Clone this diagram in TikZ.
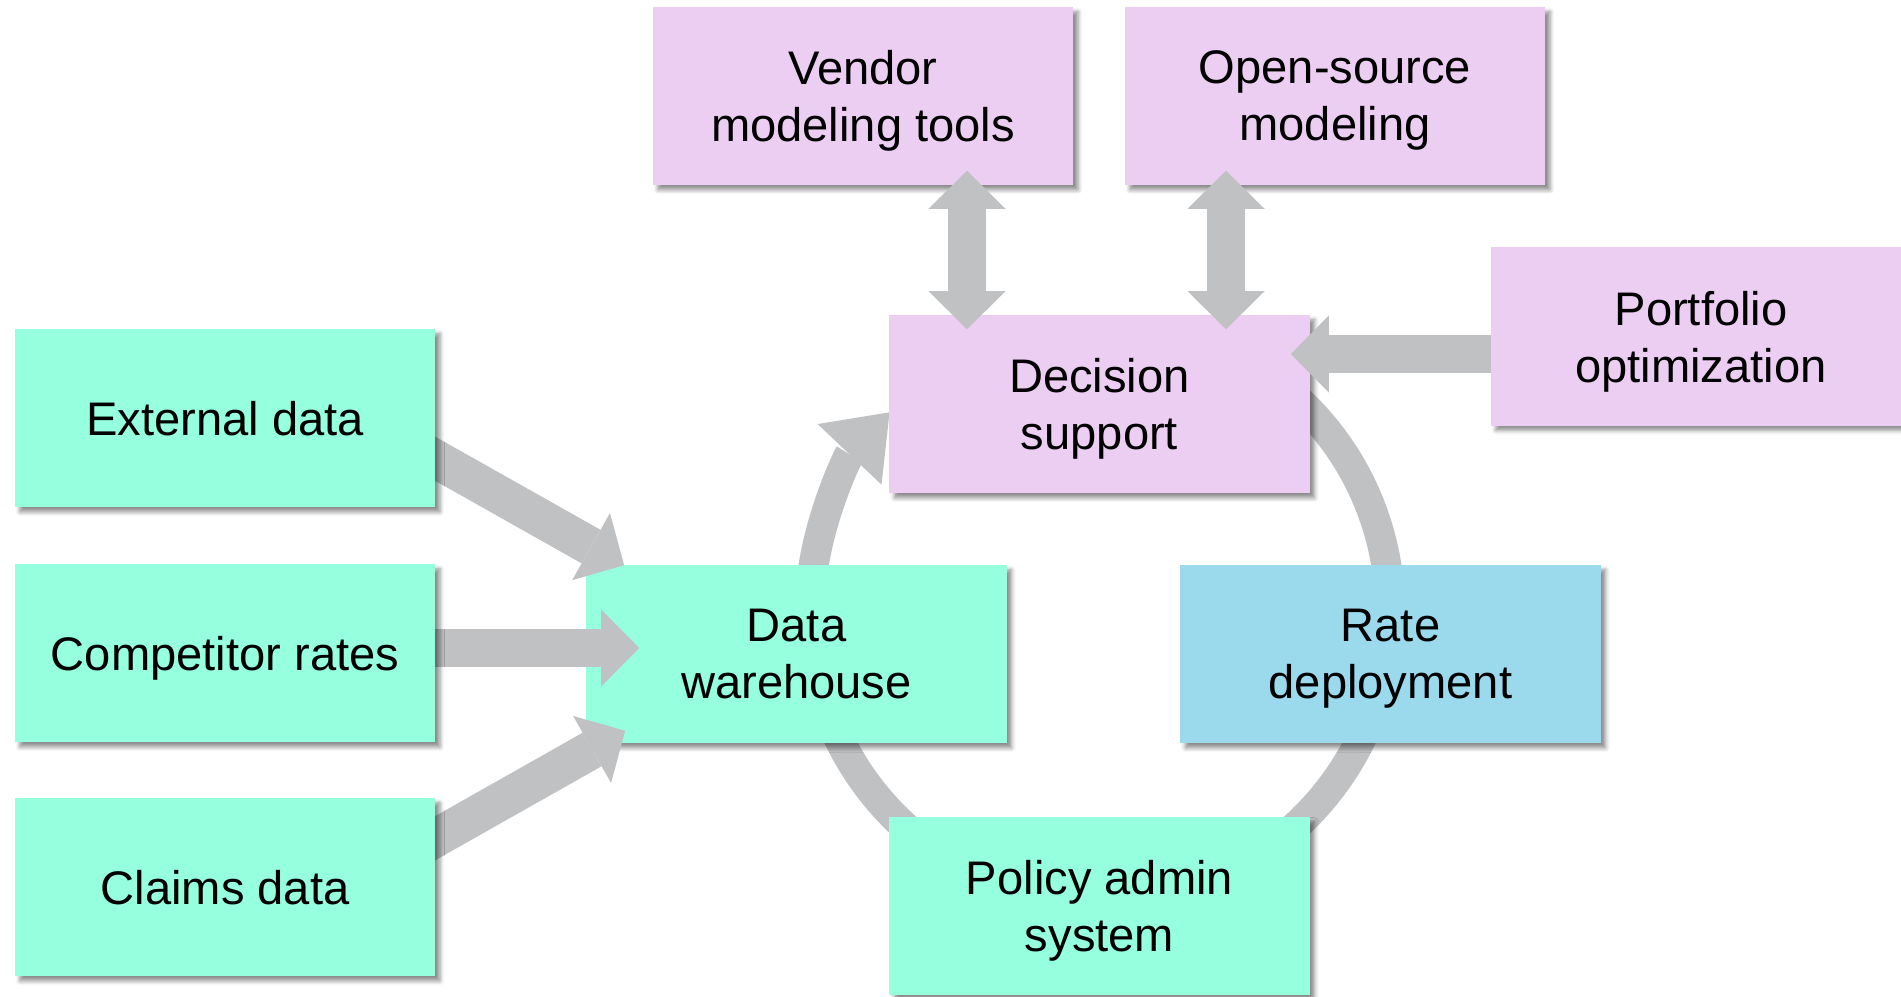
\documentclass[tikz,border=0pt]{standalone}
\usepackage{fontspec}
\setmainfont{Liberation Sans}
\usetikzlibrary{arrows.meta,calc,shadows.blur}

\definecolor{mint}{RGB}{150,255,221}
\definecolor{lilac}{RGB}{236,206,242}
\definecolor{skyblue}{RGB}{155,217,236}
\definecolor{flowgray}{RGB}{192,193,195}

\pgfdeclarelayer{ringlayer}
\pgfdeclarelayer{arrowlayer}
\pgfdeclarelayer{front}
\pgfsetlayers{ringlayer,main,arrowlayer,front}

\begin{document}
\begin{tikzpicture}[x=0.01cm,y=0.01cm,
  box/.style={minimum width=4.2cm, minimum height=1.78cm, inner sep=0pt,
    align=center, font=\fontsize{13.4}{16.2}\selectfont, text depth=0pt,
    blur shadow={shadow xshift=1.4pt, shadow yshift=-1.4pt,
      shadow blur radius=1.2pt, shadow opacity=45}},
  greenbox/.style={box, fill=mint},
  purplebox/.style={box, fill=lilac},
  bluebox/.style={box, fill=skyblue},
  flow/.style={draw=flowgray, line width=0.385cm,
    -{Triangle[width=0.77cm, length=0.38cm, line width=0pt]}},
  twoway/.style={draw=flowgray, line width=0.385cm,
    {Triangle[width=0.77cm, length=0.38cm, line width=0pt]}-{Triangle[width=0.77cm, length=0.38cm, line width=0pt]}},
  loopflow/.style={draw=flowgray, line width=0.30cm,
    -{Triangle[width=0.88cm, length=0.58cm, line width=0pt]}}
]
\useasboundingbox (0,0) rectangle (1901,996);
\clip (0,0) rectangle (1901,996);

% central boxes of the loop and the modelling tools
\node[purplebox] (decision) at (1099.5,592) {Decision\\support};
\node[greenbox]  (dw)       at (796.5,342)  {Data\\warehouse};
\node[bluebox]   (rate)     at (1390.5,342) {Rate\\deployment};
\node[greenbox]  (policy)   at (1099.5,90)  {Policy admin\\system};
\node[purplebox] (vendor)   at (863,900)    {Vendor\\modeling tools};
\node[purplebox] (opensrc)  at (1335,900)   {Open-source\\modeling};

% data sources and portfolio optimisation sit above the arrow shafts
\begin{pgfonlayer}{front}
\node[greenbox]  (ext)       at (225,578)    {External data};
\node[greenbox]  (comp)      at (225,343)    {Competitor rates};
\node[greenbox]  (claims)    at (225,109)    {Claims data};
\node[purplebox] (portfolio) at (1701,659.5) {Portfolio\\optimization};
\end{pgfonlayer}

% the rating loop behind the boxes
\begin{pgfonlayer}{ringlayer}
\coordinate (ringc) at ($(decision.center)+(0.5,-208)$);
\draw[loopflow] ($(ringc)+(52:2.9cm)$) arc[start angle=52, end angle=-223.5, radius=2.9cm];
\end{pgfonlayer}

% block arrows
\begin{pgfonlayer}{arrowlayer}
\draw[flow] ($(ext.east)+(-25,-27)$) -- ($(dw.north west)+(38.5,-1)$);
\draw[flow] ($(comp.east)+(-25,5)$) -- ($(dw.west)+(53.5,6)$);
\draw[flow] ($(claims.east)+(-25,35)$) -- ($(dw.south west)+(39.5,13)$);
\draw[flow] ($(portfolio.west)+(20,-17.5)$) -- ($(decision.east)+(-19.5,50)$);
\draw[twoway] ($(vendor.south)+(104,15)$) -- ($(decision.north)+(-132.5,-15)$);
\draw[twoway] ($(opensrc.south)+(-109,15)$) -- ($(decision.north)+(126.5,-15)$);
\end{pgfonlayer}
\end{tikzpicture}
\end{document}
